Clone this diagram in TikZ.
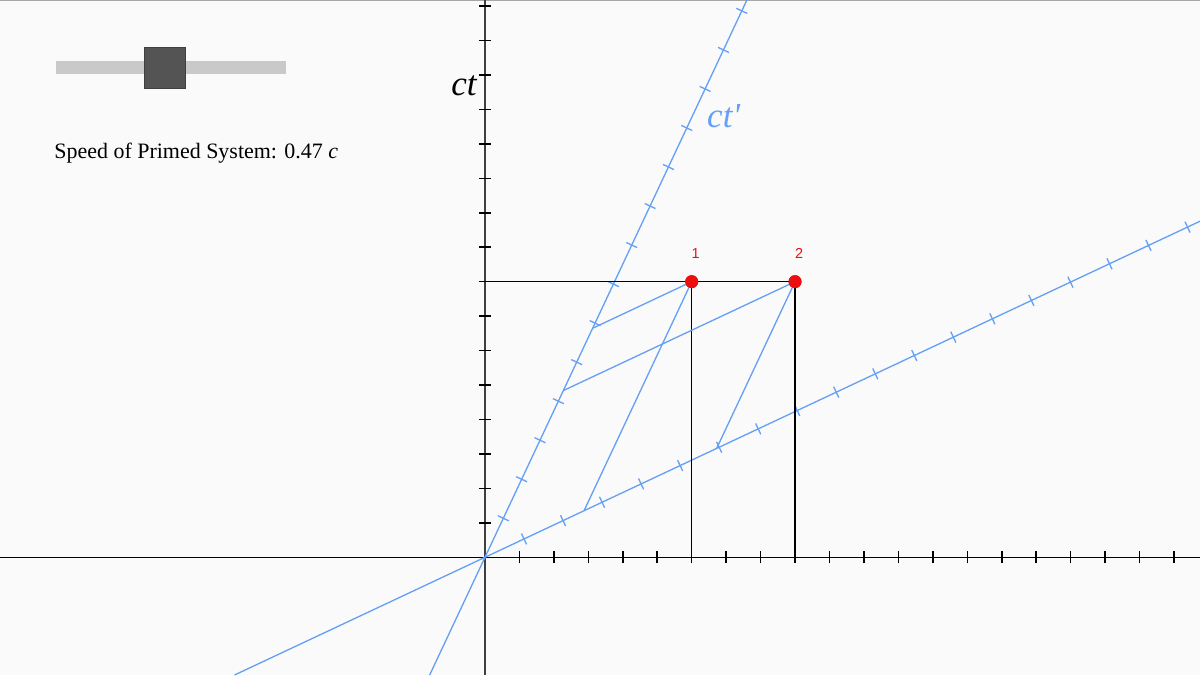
\documentclass[tikz,border=0pt]{standalone}
\usepackage{fontspec}
\setmainfont{Liberation Serif}
\newfontfamily\labelfont{Liberation Sans}
\usetikzlibrary{positioning}

\definecolor{primeblue}{RGB}{100,160,245}
\definecolor{evred}{RGB}{235,15,15}
\definecolor{paper}{RGB}{250,250,250}

\begin{document}
\begin{tikzpicture}[x=0.689cm,y=0.689cm,
  axis/.style={line width=0.9pt,black},
  taxis/.style={line width=1.3pt,black!75},
  axtick/.style={line width=0.9pt,black},
  paxis/.style={line width=0.75pt,primeblue},
  ptick/.style={line width=0.75pt,primeblue},
  proj/.style={line width=0.75pt,primeblue},
  drop/.style={line width=0.9pt,black},
  evdot/.style={circle,fill=evred,inner sep=0pt,minimum size=0.26cm},
  evtxt/.style={font=\labelfont\fontsize{8.2}{9}\selectfont,text=evred,inner sep=0pt},
  axlabel/.style={font=\itshape\fontsize{20}{22}\selectfont,inner sep=0pt},
]
  \useasboundingbox (-14.078,-3.417) rectangle (20.755,16.177);
  \fill[paper] (-14.078,-3.417) rectangle (20.755,16.177);
  \clip (-14.078,-3.417) rectangle (20.755,16.177);
  \draw[black!35,line width=1.4pt] (-14.078,16.177) -- (20.755,16.177);

  % slider
  \fill[black!21] (-12.453,14.03) rectangle (-5.777,14.406);
  \draw[black!75,fill=black!67] (-9.89,13.614) rectangle (-8.688,14.804);
  \node[anchor=base west,inner sep=0pt,font=\fontsize{12.5}{15}\selectfont] (speed)
    at (-12.51,11.59) {Speed of Primed System: 0.47 \textit{c}};

  % rest frame axes
  \draw[axis] (-14.078,0) -- (20.755,0);
  \draw[taxis] (0,-3.417) -- (0,16.177);
  \foreach \i in {1,...,20}
    \draw[axtick] (\i,-0.174) -- (\i,0.174);
  \foreach \i in {1,...,16}
    \draw[axtick] (-0.174,\i) -- (0.174,\i);
  \node[axlabel,anchor=base east] (ctlab) at (-0.232,13.41) {ct};

  % primed axes, v = 0.47c, gamma = 1.1329
  \draw[paxis] (-1.606,-3.417) -- (7.603,16.177);
  \draw[paxis] (-7.27,-3.417) -- (20.755,9.755);
  \foreach \n in {1,...,14}
    \draw[ptick] ([shift={(-0.1575,0.074)}]0.5325*\n,1.1329*\n) -- ++(0.315,-0.148);
  \foreach \n in {1,...,18}
    \draw[ptick] ([shift={(0.074,-0.1575)}]1.1329*\n,0.5325*\n) -- ++(-0.148,0.315);
  \node[axlabel,anchor=base west,text=primeblue] (ctplab) at (6.44,12.47) {ct\textquotesingle};

  % events
  \coordinate (t8) at (0,8);
  \coordinate (x6) at (6,0);
  \coordinate (x9) at (9,0);
  \coordinate (p1t) at (3.125,6.648);
  \coordinate (p1x) at (2.875,1.351);
  \coordinate (p2t) at (2.274,4.839);
  \coordinate (p2x) at (6.725,3.161);
  \node[evdot] (ev1) at (6,8) {};
  \node[evdot] (ev2) at (9,8) {};

  \draw[drop] (t8) -- (ev2.center);
  \draw[drop] (ev1.center) -- (x6);
  \draw[drop] (ev2.center) -- (x9);

  \draw[proj] (p1t) -- (ev1.center) -- (p1x);
  \draw[proj] (p2t) -- (ev2.center) -- (p2x);

  \node[evdot] at (ev1) {};
  \node[evdot] at (ev2) {};
  \node[evtxt,above=0.32cm of ev1,xshift=0.08cm] (lab1) {1};
  \node[evtxt,above=0.32cm of ev2,xshift=0.08cm] (lab2) {2};
\end{tikzpicture}
\end{document}
